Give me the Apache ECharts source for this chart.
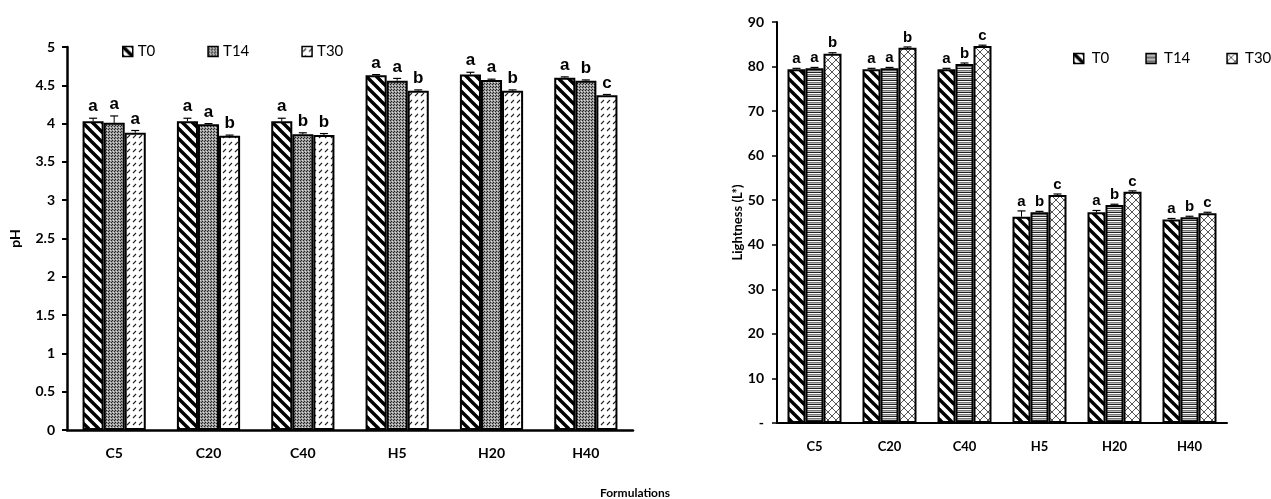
<!DOCTYPE html>
<html><head><meta charset="utf-8">
<script src="https://cdn.jsdelivr.net/npm/echarts@6/dist/echarts.min.js"></script>
<style>html,body{margin:0;padding:0;background:#fff}#c{width:1271px;height:499px}</style>
</head><body><div id="c"></div>
<script>
// ---- data ----
const categories = ['C5','C20','C40','H5','H20','H40'];
const seriesNames = ['T0','T14','T30'];
const phT0 = [4.03,4.03,4.03,4.63,4.64,4.60];
const phT14 = [4.01,3.99,3.86,4.56,4.57,4.56];
const phT30 = [3.88,3.84,3.85,4.43,4.43,4.37];
const phErrT0 = [0.04,0.04,0.04,0.01,0.03,0.01];
const phErrT14 = [0.09,0.01,0.02,0.03,0.01,0.01];
const phErrT30 = [0.03,0.01,0.02,0.01,0.01,0.01];
const phLetT0 = ['a','a','a','a','a','a'];
const phLetT14 = ['a','a','b','a','a','b'];
const phLetT30 = ['a','b','b','b','b','c'];
const lT0 = [79.4,79.4,79.4,46.3,47.3,45.7];
const lT14 = [79.6,79.6,80.6,47.3,48.9,46.2];
const lT30 = [82.9,84.2,84.6,51.2,51.9,47.1];
const lErrT0 = [0.2,0.2,0.2,1.3,0.4,0.2];
const lErrT14 = [0.2,0.2,0.2,0.2,0.2,0.2];
const lErrT30 = [0.2,0.2,0.2,0.2,0.2,0.2];
const lLetT0 = ['a','a','a','a','a','a'];
const lLetT14 = ['a','a','b','b','b','b'];
const lLetT30 = ['b','b','c','c','c','c'];
const phTicks = ['0','0.5','1','1.5','2','2.5','3','3.5','4','4.5','5'];
const lTicks = ['-','10','20','30','40','50','60','70','80','90'];
const phAxisName = 'pH';
const lAxisName = 'Lightness (L*)';
const xAxisTitle = 'Formulations';

// ---- patterns ----
function mk(w,h,draw){const c=document.createElement('canvas');c.width=w;c.height=h;const g=c.getContext('2d');draw(g,w,h);return c;}
const patDiag = mk(10,10,(g,w,h)=>{g.fillStyle='#fff';g.fillRect(0,0,w,h);g.strokeStyle='#000';g.lineWidth=3.4;
  for(let k=-1;k<=1;k++){g.beginPath();g.moveTo(k*w-1,-1);g.lineTo(k*w+w+1,h+1);g.stroke();}});
const patDots = mk(3,3,(g,w,h)=>{g.fillStyle='#999';g.fillRect(0,0,w,h);g.fillStyle='#222';g.fillRect(0,0,1,1);g.fillRect(1,2,1,1);g.fillStyle='#ddd';g.fillRect(2,1,1,1);});
const patSlash = mk(6,7,(g,w,h)=>{g.fillStyle='#fff';g.fillRect(0,0,w,h);g.strokeStyle='#222';g.lineWidth=1.1;g.beginPath();g.moveTo(1,5);g.lineTo(4,2);g.stroke();});
const patHoriz = mk(4,4,(g,w,h)=>{g.fillStyle='#fff';g.fillRect(0,0,w,h);g.fillStyle='#222';g.fillRect(0,0,w,1);g.fillStyle='#777';g.fillRect(0,2,w,1);g.fillStyle='#bbb';g.fillRect(0,3,w,1);});
const patCross = mk(8,8,(g,w,h)=>{g.fillStyle='#fff';g.fillRect(0,0,w,h);g.strokeStyle='#555';g.lineWidth=1;
  g.beginPath();g.moveTo(0,0);g.lineTo(w,h);g.moveTo(w,0);g.lineTo(0,h);g.stroke();});
const P = p=>({image:p,repeat:'repeat'});
const leftPats = [P(patDiag),P(patDots),P(patSlash)];
const rightPats = [P(patDiag),P(patHoriz),P(patCross)];

const chart = echarts.init(document.getElementById('c'));
const tickFont = {fontFamily:'Lato',fontWeight:'bold',color:'#000'};

function errSeries(ax, vals, errs, lets, idx, gapFrac, fontSize, lift){
  return {type:'custom',xAxisIndex:ax,yAxisIndex:ax,silent:true,z:5,
    data: vals.map((v,i)=>[i,v,errs[i]]),
    renderItem:(p,api)=>{
      const ci=api.value(0),v=api.value(1),e=api.value(2);
      const band=api.size([1,0])[0];
      const bw=band*(1-gapFrac)/3;
      const c0=api.coord([ci,v]),c1=api.coord([ci,v+e]);
      const x=c0[0]+(idx-1)*bw;
      return {type:'group',children:[
        {type:'line',shape:{x1:x,y1:c0[1],x2:x,y2:c1[1]},style:{stroke:'#000',lineWidth:1}},
        {type:'line',shape:{x1:x-4,y1:c1[1],x2:x+4,y2:c1[1]},style:{stroke:'#000',lineWidth:1.2}},
        {type:'text',x:x,y:c1[1]-lift,style:{text:lets[p.dataIndex],textAlign:'center',textVerticalAlign:'bottom',
          font:'bold '+fontSize+'px "Liberation Sans", Arial',fill:'#000'}}
      ]};
    }};
}

const leftGap=0.33, rightGap=0.28;
const phVals=[phT0,phT14,phT30], phErrs=[phErrT0,phErrT14,phErrT30], phLets=[phLetT0,phLetT14,phLetT30];
const lVals=[lT0,lT14,lT30], lErrs=[lErrT0,lErrT14,lErrT30], lLets=[lLetT0,lLetT14,lLetT30];

const series=[];
seriesNames.forEach((n,i)=>{
  series.push({type:'bar',name:n,xAxisIndex:0,yAxisIndex:0,data:phVals[i],barGap:'0%',barCategoryGap:(leftGap*100)+'%',
    itemStyle:{color:leftPats[i],borderColor:'#000',borderWidth:2},emphasis:{disabled:true}});
});
seriesNames.forEach((n,i)=>{
  series.push({type:'bar',name:n,xAxisIndex:1,yAxisIndex:1,data:lVals[i],barGap:'0%',barCategoryGap:(rightGap*100)+'%',
    itemStyle:{color:rightPats[i],borderColor:'#000',borderWidth:2},emphasis:{disabled:true}});
});
seriesNames.forEach((n,i)=>series.push(errSeries(0,phVals[i],phErrs[i],phLets[i],i,leftGap,17,3)));
seriesNames.forEach((n,i)=>series.push(errSeries(1,lVals[i],lErrs[i],lLets[i],i,rightGap,15,2)));

chart.setOption({
  animation:false,
  backgroundColor:'#fff',
  title:{text:xAxisTitle,left:635,textAlign:'center',top:487,padding:0,textStyle:{fontFamily:'Lato',fontWeight:'bold',fontSize:12,color:'#000'}},
  legend:[
    {left:122,top:44,padding:0,itemWidth:10,itemHeight:10,itemGap:52,icon:'rect',
      data:seriesNames.map((n,i)=>({name:n,itemStyle:{color:leftPats[i],borderColor:'#000',borderWidth:1.5}})),
      textStyle:{fontFamily:'Lato',fontSize:15,color:'#000'},selectedMode:false},
    {left:1073,top:51,padding:0,width:260,itemWidth:10,itemHeight:10,itemGap:36,icon:'rect',
      data:seriesNames.map((n,i)=>({name:n,itemStyle:{color:rightPats[i],borderColor:'#000',borderWidth:1.5}})),
      textStyle:{fontFamily:'Lato',fontSize:15,color:'#000',padding:[0,0,0,3]},selectedMode:false}
  ],
  grid:[
    {left:67,right:638,top:47,bottom:69,containLabel:false},
    {left:777,right:44,top:22,bottom:76,containLabel:false}
  ],
  xAxis:[
    {type:'category',gridIndex:0,data:categories,axisLine:{lineStyle:{color:'#000',width:2.5}},axisTick:{show:false},
      axisLabel:Object.assign({fontSize:14,margin:16},tickFont)},
    {type:'category',gridIndex:1,data:categories,axisLine:{lineStyle:{color:'#000',width:2}},axisTick:{show:false},
      axisLabel:Object.assign({fontSize:13,margin:17},tickFont)}
  ],
  yAxis:[
    {type:'value',gridIndex:0,min:0,max:5,interval:0.5,splitLine:{show:false},
      axisLine:{show:true,lineStyle:{color:'#000',width:2.5}},axisTick:{show:true,length:5,lineStyle:{color:'#000',width:2}},
      axisLabel:Object.assign({fontSize:14,margin:12,formatter:v=>phTicks[Math.round(v/0.5)]},tickFont),
      name:phAxisName,nameLocation:'middle',nameGap:45,nameRotate:90,
      nameTextStyle:{fontFamily:'Lato',fontWeight:'bold',fontSize:14,color:'#000'}},
    {type:'value',gridIndex:1,min:0,max:90,interval:10,splitLine:{show:false},
      axisLine:{show:true,lineStyle:{color:'#000',width:2}},axisTick:{show:true,length:5,lineStyle:{color:'#000',width:1.5}},
      axisLabel:Object.assign({fontSize:14,margin:13,formatter:v=>lTicks[Math.round(v/10)]},tickFont),
      name:lAxisName,nameLocation:'middle',nameGap:33,nameRotate:90,
      nameTextStyle:{fontFamily:'Lato',fontWeight:'bold',fontSize:13,color:'#000'}}
  ],
  series:series
});
</script></body></html>
